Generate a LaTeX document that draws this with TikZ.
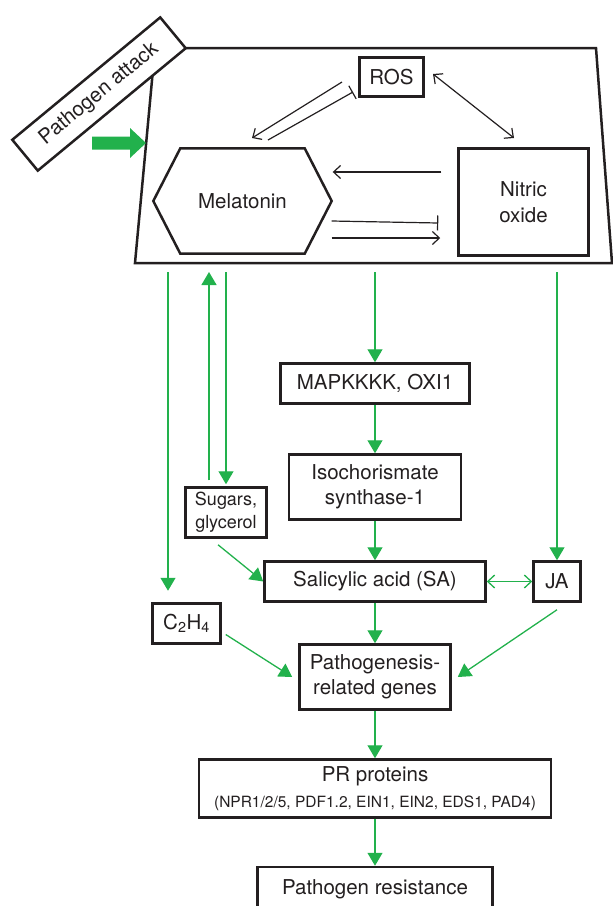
\documentclass[tikz,border=0pt]{standalone}
\usepackage{fontspec}
\setmainfont{TeX Gyre Heros}
\usetikzlibrary{arrows.meta,positioning}
\definecolor{pgreen}{RGB}{34,177,76}
\definecolor{ink}{RGB}{35,31,32}

\begin{document}
\begin{tikzpicture}[x=1pt,y=-1pt,
    every node/.style={text=ink,font=\fontsize{20.5}{25.5}\selectfont},
    box/.style={draw=ink,line width=2.5pt,align=center,inner sep=0pt},
    small/.style={font=\fontsize{18}{23}\selectfont},
    thin/.style={draw=ink,line width=1.2pt},
    barb/.style={thin,-{Straight Barb[length=7pt,width=13pt]}},
    barbs/.style={thin,{Straight Barb[length=7pt,width=13pt]}-{Straight Barb[length=7pt,width=13pt]}},
    block/.style={thin,-{Bar[width=15pt]}},
    gline/.style={draw=pgreen,line width=1.3pt,-{Triangle[length=13pt,width=15pt]}},
    gboth/.style={draw=pgreen,line width=1.3pt,{Straight Barb[length=7pt,width=13pt]}-{Straight Barb[length=7pt,width=13pt]}}]
    \useasboundingbox (0,0) rectangle (613,906);
    \clip (0,0) rectangle (613,906);

    % cell
    \draw[line width=2.5pt,draw=ink] (155,48) -- (596,48) -- (612,263) -- (135,263) -- cycle;
    \node[box,fill=white,rotate=39.6,minimum width=192pt,minimum height=40pt] (attack) at (99,94) {Pathogen attack};
    \fill[pgreen] (92,136.5) -- (130,136.5) -- (130,128) -- (146,143) -- (130,158) -- (130,149.5) -- (92,149.5) -- cycle;

    \node[box,minimum width=64pt,minimum height=39pt] (ros) at (391.5,77) {ROS};
    \node[minimum width=178pt,minimum height=105pt,inner sep=0pt] (mel) at (242.5,201) {Melatonin};
    \draw[line width=2.5pt,draw=ink] (mel.west) -- ([xshift=27pt]mel.north west) -- ([xshift=-27pt]mel.north east)
        -- (mel.east) -- ([xshift=-27pt]mel.south east) -- ([xshift=27pt]mel.south west) -- cycle;
    \node[box,minimum width=130pt,minimum height=107pt] (no) at (523.5,202) {Nitric\\oxide};

    \coordinate (rosup) at (342,82);
    \coordinate (melup) at (252,138);
    \coordinate (mello) at (268,140);
    \coordinate (roslo) at (353,92);
    \coordinate (rosno) at (433,74);
    \coordinate (noros) at (514,138);
    \draw[barb] (rosup) -- (melup);
    \draw[block] (mello) -- (roslo);
    \draw[barbs] (rosno) -- (noros);
    \draw[barb] ([xshift=-16pt,yshift=30pt]no.west) -- ([xshift=1pt,yshift=29pt]mel.east);
    \draw[block] ([yshift=-20pt]mel.east) -- ([xshift=-19pt,yshift=-21pt]no.west);
    \draw[barb] ([yshift=-37pt]mel.east) -- ([xshift=-17pt,yshift=-36pt]no.west);

    % signalling
    \node[box,minimum width=189pt,minimum height=40pt] (mapk) at (375,383.5) {MAPKKKK, OXI1};
    \node[box,below of=mapk,node distance=103.5pt,minimum width=172pt,minimum height=65pt] (iso) {Isochorismate\\synthase-1};
    \node[box,below of=iso,node distance=94.5pt,minimum width=221pt,minimum height=40pt] (sa) {Salicylic acid (SA)};
    \node[box,right of=sa,node distance=182pt,minimum width=47pt,minimum height=40pt] (ja) {JA};
    \node[box,small,minimum width=81pt,minimum height=50pt] (sug) at (226,512.5) {Sugars,\\glycerol};
    \node[box,minimum width=68pt,minimum height=40pt] (c2h4) at (186.5,623.5) {C\textsubscript{2}H\textsubscript{4}};
    \node[box,below of=sa,node distance=95.5pt,minimum width=151pt,minimum height=65pt] (pg) {Pathogenesis-\\related genes};
    \node[box,below of=pg,node distance=111.5pt,minimum width=352pt,minimum height=58pt] (pr) {PR proteins\\{\fontsize{15.5}{19}\selectfont(NPR1/2/5, PDF1.2, EIN1, EIN2, EDS1, PAD4)}};
    \node[box,below of=pr,node distance=100.5pt,minimum width=235pt,minimum height=44pt] (res) {Pathogen resistance};

    \coordinate (t1) at (168,272);
    \coordinate (t2) at (209,272);
    \coordinate (t3) at (226,272);
    \coordinate (t4) at (375,272);
    \coordinate (t5) at (557,272);
    \draw[gline] (t1) -- ([xshift=-18.5pt,yshift=11.5pt]c2h4.north);
    \draw[gline] ([xshift=-17pt,yshift=6pt]sug.north) -- (t2);
    \draw[gline] (t3) -- ([yshift=2pt]sug.north);
    \draw[gline] (t4) -- (mapk);
    \draw[gline] (t5) -- (ja);
    \draw[gline] (mapk) -- (iso);
    \draw[gline] (iso) -- (sa);
    \draw[gline] ([xshift=-8pt,yshift=-6pt]sug.south) -- (sa.west);
    \draw[gboth] (sa) -- (ja);
    \draw[gline] (sa) -- (pg);
    \draw[gline] ([xshift=4pt,yshift=-11pt]c2h4.east) -- ([xshift=-6pt]pg.west);
    \draw[gline] ([yshift=-7pt]ja.south) -- ([xshift=6pt]pg.east);
    \draw[gline] (pg) -- (pr);
    \draw[gline] (pr) -- (res);
\end{tikzpicture}
\end{document}
